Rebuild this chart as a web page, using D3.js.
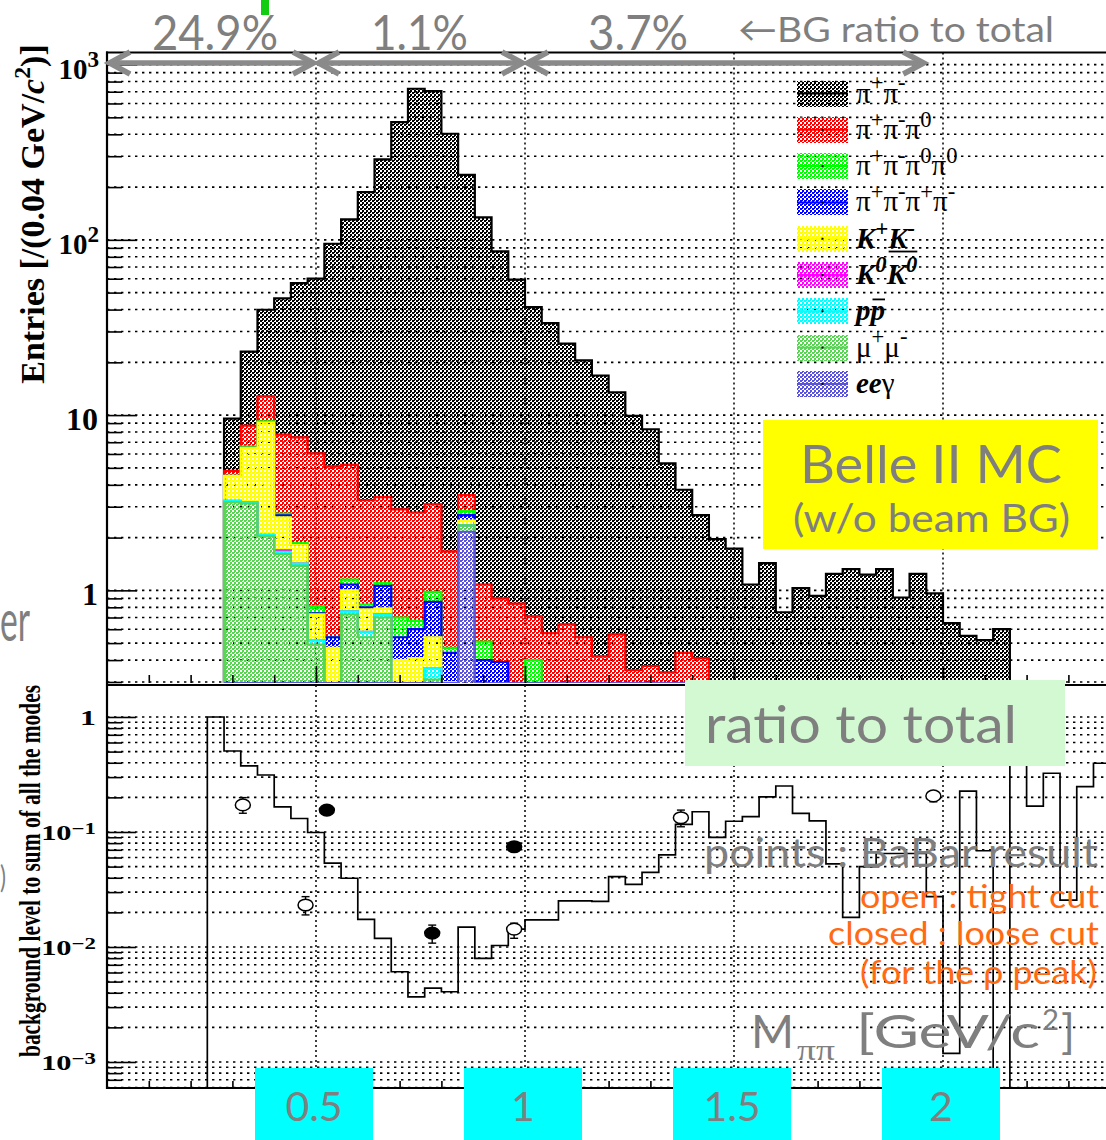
<!DOCTYPE html>
<html>
<head>
<meta charset="utf-8">
<script src="https://cdn.jsdelivr.net/npm/d3@7/dist/d3.min.js"></script>
<style>
  body { margin: 0; background: #fff; }
  svg { display: block; }
</style>
</head>
<body>
<svg id="main-svg" width="1106" height="1140"></svg>
<script>
// binning of the stacked histograms, GeV/c^2
let BIN_START = 0.28;
let BIN_WIDTH = 0.04;

// entries per bin for each mode (bins 0.28 .. 2.16)
let pipi = [4.74, 14.3, 27.1, 38.6, 49.2, 54, 89.9, 125.8, 183.7, 284.6, 466.1, 725.2, 702.9, 401.3, 231.5, 133.4, 85.1, 58.5, 40.6, 32.9,
            24.9, 20.0, 16.4, 12.9, 9.55, 7.93, 4.96, 3.31, 2.28, 1.78, 1.52, 0.93, 1.14, 0.56, 0.88, 0.81, 1.17, 1.30, 1.17, 1.23,
            0.85, 1.16, 0.93, 0.65, 0.43, 0.48, 0.6];
let pi3 = [0.3, 2.1, 3.6, 5.0, 5.6, 5.24, 4.56, 4.05, 2.44, 2.3, 2.2, 2.11, 2.12, 1.2, 0.67, 0.57, 0.51, 0.84, 0.31, 0.57,
           0.64, 0.54, 0.42, 0.56, 0.35, 0.37, 0.34, 0.44, 0.41, 0.18, 0.21, 0.15, 0.29, 0.19, 0.15, 0.12, 0.07, 0.02, 0.06, 0.09,
           0.06, 0.08, 0.03, 0, 0.12, 0.04, 0];
let pi2pi0pi0 = [0, 0.1, 0.1, 0.06, 0.04, 0.07, 0, 0.07, 0.03, 0.04, 0.16, 0.07, 0.12, 0.03, 0.14, 0.11, 0, 0, 0.4, 0,
                 0, 0, 0, 0, 0, 0, 0, 0, 0, 0, 0, 0, 0, 0, 0, 0, 0, 0, 0, 0,
                 0, 0, 0, 0, 0, 0, 0];
let pi4 = [0, 0, 0, 0.07, 0, 0.01, 0.07, 0.08, 0.02, 0.27, 0.14, 0.19, 0.32, 0.14, 0.19, 0.25, 0.3, 0, 0, 0,
           0, 0, 0, 0, 0, 0, 0, 0, 0, 0, 0, 0, 0, 0, 0, 0, 0, 0, 0, 0,
           0, 0, 0, 0, 0, 0, 0];
let kk = [1.26, 3.32, 7.03, 0.92, 0.40, 0.21, 0.27, 0.24, 0.2, 0.06, 0.15, 0.16, 0.18, 0.1, 0.15, 0.05, 0, 0, 0, 0,
          0, 0, 0, 0, 0, 0, 0, 0, 0, 0, 0, 0, 0, 0, 0, 0, 0, 0, 0, 0,
          0, 0, 0, 0, 0, 0, 0];
let k0k0 = [0, 0, 0, 0.03, 0, 0, 0, 0, 0, 0, 0, 0, 0, 0, 0, 0, 0, 0, 0, 0,
            0, 0, 0, 0, 0, 0, 0, 0, 0, 0, 0, 0, 0, 0, 0, 0, 0, 0, 0, 0,
            0, 0, 0, 0, 0, 0, 0];
let ppbar = [0.06, 0.05, 0.04, 0.05, 0.04, 0.03, 0, 0.03, 0.04, 0.03, 0, 0, 0.05, 0, 0, 0, 0, 0, 0, 0,
             0, 0, 0, 0, 0, 0, 0, 0, 0, 0, 0, 0, 0, 0, 0, 0, 0, 0, 0, 0,
             0, 0, 0, 0, 0, 0, 0];
let mumu = [3.18, 3.13, 2.03, 1.61, 1.38, 0.49, 0.2, 0.73, 0.54, 0.7, 0.25, 0.25, 0.31, 0.2, 0.19, 0.1, 0.09, 0, 0, 0,
            0, 0, 0, 0, 0, 0, 0, 0, 0, 0, 0, 0, 0, 0, 0, 0, 0, 0, 0, 0,
            0, 0, 0, 0, 0, 0, 0];
let eeg = [0, 0, 0, 0, 0, 0, 0, 0, 0, 0, 0, 0, 0, 0, 2.16, 0, 0, 0, 0, 0,
           0, 0, 0, 0, 0, 0, 0, 0, 0, 0, 0, 0, 0, 0, 0, 0, 0, 0, 0, 0,
           0, 0, 0, 0, 0, 0, 0];

// background / total ratio per bin (bins 0.24 .. 2.36)
let RATIO_START = 0.24;
let ratio = [1.0, 0.506, 0.375, 0.313, 0.165, 0.131, 0.099, 0.0535, 0.0396, 0.0174, 0.0119, 0.00609, 0.00368, 0.00438, 0.00408,
             0.0149, 0.00795, 0.0103, 0.0143, 0.0172, 0.0172, 0.0252, 0.0252, 0.0249, 0.0409, 0.035, 0.0446, 0.0633, 0.1166,
             0.150, 0.0899, 0.124, 0.136, 0.202, 0.251, 0.145, 0.125, 0.0527, 0.0181, 0.05, 0.065, 0.065, 0.065, 0.0274,
             0.00119, 0.227, 0.0687, 0, 5, 0.168, 0.324, 0.0256, 0.248, 0.396];

// BaBar points: open = tight cut, closed = loose cut
let tight_x = [0.325, 0.475, 0.974, 1.373, 1.977];
let tight_y = [0.172, 0.0232, 0.0143, 0.133, 0.206];
let tight_lo = [0.1455, 0.019, 0.0119, 0.111, 0.183];
let tight_hi = [0.199, 0.0274, 0.0161, 0.155, 0.224];
let loose_x = [0.526, 0.778, 0.974];
let loose_y = [0.155, 0.0132, 0.0745];
let loose_lo = [0.148, 0.0108, 0.071];
let loose_hi = [0.162, 0.0155, 0.078];

// BG ratio to total in the three mass ranges
let bg_ranges = [0, 0.5, 1.0, 1.96];
let bg_labels = ['24.9%', '1.1%', '3.7%'];

let x_labels = ['0.5', '1', '1.5', '2'];

// stacking order, bottom first (legend lists it reversed)
let STACK_KEYS = ['eeg', 'mumu', 'ppbar', 'k0k0', 'kk', 'pi4', 'pi2pi0pi0', 'pi3', 'pipi'];
let MODE_VALUES = { eeg, mumu, ppbar, k0k0, kk, pi4, pi2pi0pi0, pi3, pipi };
let MODE_COLOR = {
    pipi: '#000000', pi3: '#ff0000', pi2pi0pi0: '#00ff00', pi4: '#0000ff', kk: '#ffff00',
    k0k0: '#ff00ff', ppbar: '#00ffff', mumu: '#59d454', eeg: '#5954d9'
};
let MODE_LABEL = {
    pipi: [['π'], ['+', 'sup'], ['π'], ['-', 'sup']],
    pi3: [['π'], ['+', 'sup'], ['π'], ['-', 'sup'], ['π'], ['0', 'sup']],
    pi2pi0pi0: [['π'], ['+', 'sup'], ['π'], ['-', 'sup'], ['π'], ['0', 'sup'], ['π'], ['0', 'sup']],
    pi4: [['π'], ['+', 'sup'], ['π'], ['-', 'sup'], ['π'], ['+', 'sup'], ['π'], ['-', 'sup']],
    kk: [['K', 'bi'], ['+', 'bi sup'], ['K', 'bi'], ['-', 'bi sup']],
    k0k0: [['K', 'bi'], ['0', 'bi sup'], ['K', 'bi over'], ['0', 'bi sup over']],
    ppbar: [['p', 'bi'], ['p', 'bi over']],
    mumu: [['μ'], ['+', 'sup'], ['μ'], ['-', 'sup']],
    eeg: [['ee', 'bi'], ['γ']]
};

let SERIF = "'Liberation Serif', 'Times New Roman', serif";
let GOTHIC = "Lato, 'Open Sans', sans-serif";
let GRAY = '#7f7f7f';
let ORANGE = '#ff6a13';

let svg = d3.select('#main-svg');
let defs = svg.append('defs');

// pixel checker fill like the ROOT pattern
function addPattern(id, color) {
    let p = defs.append('pattern').attr('id', id)
        .attr('patternUnits', 'userSpaceOnUse').attr('width', 4).attr('height', 4);
    p.append('rect').attr('x', 0).attr('y', 0).attr('width', 2).attr('height', 2).attr('fill', color);
    p.append('rect').attr('x', 2).attr('y', 2).attr('width', 2).attr('height', 2).attr('fill', color);
    p.append('rect').attr('x', 2).attr('y', 0).attr('width', 1).attr('height', 1).attr('fill', color);
}
STACK_KEYS.forEach(k => addPattern('pat-' + k, MODE_COLOR[k]));

// scales
let TOP = { left: 107, right: 1106, top: 52.5, bottom: 683 };
let BOT = { left: 107, right: 1106, top: 685, bottom: 1088 };
let x = d3.scaleLinear().domain([0, 2.5]).range([107, 1152]);
let yTop = d3.scaleLog().domain([0.296, 1172]).range([TOP.bottom, TOP.top]);
let yBot = d3.scaleLog().domain([5.94e-4, 1.897]).range([BOT.bottom, BOT.top]);

defs.append('clipPath').attr('id', 'clip-top').append('rect')
    .attr('x', TOP.left).attr('y', TOP.top).attr('width', TOP.right - TOP.left).attr('height', TOP.bottom - TOP.top);
defs.append('clipPath').attr('id', 'clip-bot').append('rect')
    .attr('x', BOT.left).attr('y', BOT.top).attr('width', BOT.right - BOT.left).attr('height', BOT.bottom - BOT.top);

let isDecade = v => Math.abs(Math.log10(v) - Math.round(Math.log10(v))) < 1e-6;

// step contour of a histogram, empty bins drop to the bottom of the pad
function stepPoints(start, values, y, p) {
    let pts = [[x(start), p.bottom]];
    values.forEach((v, i) => {
        let lo = start + i * BIN_WIDTH;
        let yy = v > 0 ? Math.max(p.top - 1, Math.min(p.bottom, y(v))) : p.bottom;
        pts.push([x(lo), yy], [x(lo + BIN_WIDTH), yy]);
    });
    pts.push([x(start + values.length * BIN_WIDTH), p.bottom]);
    return pts;
}

function drawGrid(g, y, p) {
    g.selectAll('line.hgrid').data(y.ticks()).enter().append('line')
        .attr('x1', p.left).attr('x2', p.right)
        .attr('y1', d => y(d)).attr('y2', d => y(d))
        .attr('stroke', '#000').attr('stroke-width', 1.6).attr('stroke-dasharray', '2.4,4.6');
    g.selectAll('line.vgrid').data([0.5, 1, 1.5, 2]).enter().append('line')
        .attr('x1', d => x(d)).attr('x2', d => x(d))
        .attr('y1', p.top).attr('y2', p.bottom)
        .attr('stroke', '#000').attr('stroke-width', 1.5).attr('stroke-dasharray', '2,3');
}

function drawAxes(g, y, p, majorLen, minorLen, xMinorLen, xMajorLen) {
    let ticks = y.ticks();
    let yMinor = g.append('g').attr('transform', `translate(${p.left},0)`)
        .call(d3.axisRight(y).tickValues(ticks.filter(v => !isDecade(v))).tickSize(minorLen).tickSizeOuter(0).tickFormat(''));
    let yMajor = g.append('g').attr('transform', `translate(${p.left},0)`)
        .call(d3.axisRight(y).tickValues(ticks.filter(isDecade)).tickSize(majorLen).tickSizeOuter(0).tickFormat(''));
    let xMinor = g.append('g').attr('transform', `translate(0,${p.bottom})`)
        .call(d3.axisTop(x).tickValues(d3.range(1, 25).map(k => k / 10)).tickSize(xMinorLen).tickSizeOuter(0).tickFormat(''));
    let xMajor = g.append('g').attr('transform', `translate(0,${p.bottom})`)
        .call(d3.axisTop(x).tickValues([0.5, 1, 1.5, 2]).tickSize(xMajorLen).tickSizeOuter(0).tickFormat(''));
    [yMinor, yMajor, xMinor, xMajor].forEach(a => {
        a.selectAll('.tick line').attr('stroke', '#000').attr('stroke-width', 1.6);
        a.select('.domain').remove();
    });
    g.append('line').attr('x1', p.left).attr('x2', p.left).attr('y1', p.top - 1).attr('y2', p.bottom + 1)
        .attr('stroke', '#000').attr('stroke-width', 2.2);
}

// latex-ish text built from tspans, returns the text selection
function drawLatex(parent, px, py, parts, size, opts = {}) {
    let text = parent.append('text').attr('x', px).attr('y', py)
        .attr('font-family', opts.family || SERIF).attr('font-size', size)
        .attr('fill', opts.fill || '#000')
        .attr('font-weight', opts.bold ? 'bold' : 'normal')
        .attr('text-anchor', opts.anchor || 'start');
    let rise = 0, idx = 0, overs = [];
    parts.forEach(([s, style = '']) => {
        let sup = style.includes('sup');
        let newRise = sup ? size * (opts.supRise || 0.42) : 0;
        let ts = text.append('tspan').text(s).attr('dy', rise - newRise);
        rise = newRise;
        if (sup) ts.attr('font-size', size * (opts.supScale || 0.68));
        if (style.includes('bi')) ts.attr('font-weight', 'bold').attr('font-style', 'italic');
        if (style.includes('it')) ts.attr('font-style', 'italic');
        if (style.includes('over')) overs.push([idx, idx + s.length - 1, sup]);
        idx += s.length;
    });
    if (overs.length) {
        let node = text.node();
        let a = overs[0][0], b = overs[overs.length - 1][1];
        let hasSup = overs.some(o => o[2]);
        let x1 = node.getStartPositionOfChar(a).x, x2 = node.getEndPositionOfChar(b).x;
        let oy = py - size * (hasSup ? 1.12 : 0.72);
        parent.append('line').attr('x1', x1 + 2).attr('x2', x2).attr('y1', oy).attr('y2', oy)
            .attr('stroke', '#000').attr('stroke-width', 1.8);
    }
    return text;
}

function slideText(parent, px, py, s, size, fill, len, anchor) {
    let t = parent.append('text').attr('x', px).attr('y', py).text(s)
        .attr('font-family', GOTHIC).attr('font-size', size).attr('fill', fill)
        .attr('text-anchor', anchor || 'start');
    if (len) t.attr('textLength', len).attr('lengthAdjust', 'spacingAndGlyphs');
    return t;
}

// ---------------- top pad: stacked histograms ----------------
let gTop = svg.append('g');
drawGrid(gTop, yTop, TOP);

let rows = pipi.map((_, i) => {
    let r = { lo: BIN_START + i * BIN_WIDTH };
    STACK_KEYS.forEach(k => r[k] = MODE_VALUES[k][i]);
    return r;
});
let layers = d3.stack().keys(STACK_KEYS)(rows);

let gHist = gTop.append('g').attr('clip-path', 'url(#clip-top)');
layers.slice().reverse().forEach(layer => {
    let key = layer.key;
    let pts = stepPoints(BIN_START, layer.map(d => d[1]), yTop, TOP);
    gHist.append('path').attr('d', d3.line()(pts) + 'Z')
        .attr('fill', `url(#pat-${key})`).attr('stroke', 'none').attr('shape-rendering', 'crispEdges');
    gHist.append('path').attr('d', d3.line()(pts))
        .attr('fill', 'none').attr('stroke', MODE_COLOR[key]).attr('stroke-width', 2.2);
});

drawAxes(gTop, yTop, TOP, 30, 15, 8, 17);
gTop.append('line').attr('x1', TOP.left - 1).attr('x2', TOP.right).attr('y1', TOP.top).attr('y2', TOP.top)
    .attr('stroke', '#000').attr('stroke-width', 2.2);

// y tick labels
[[1, null], [10, null], [100, '2'], [1000, '3']].forEach(([v, e]) => {
    let by = yTop(v) + 14.5;
    if (e === null) {
        drawLatex(gTop, 98, by, [[String(v)]], 32, { bold: true, anchor: 'end' });
    } else {
        drawLatex(gTop, 99, by, [['10'], [e, 'sup']], 29, { bold: true, anchor: 'end', supScale: 0.8, supRise: 0.42 });
    }
});

// y title
let gTitle = gTop.append('g').attr('transform', 'translate(44,214) rotate(-90)');
drawLatex(gTitle, 0, 0, [['Entries [/(0.04 GeV/'], ['c', 'it'], ['2', 'sup'], [')]']], 34,
    { bold: true, anchor: 'middle', supScale: 0.7 });

// legend
let gLeg = gTop.append('g');
STACK_KEYS.slice().reverse().forEach((key, i) => {
    let cy = 93.5 + i * 36.3;
    gLeg.append('rect').attr('x', 797).attr('y', cy - 13).attr('width', 51).attr('height', 26)
        .attr('fill', `url(#pat-${key})`).attr('shape-rendering', 'crispEdges');
    gLeg.append('line').attr('x1', 797).attr('x2', 848).attr('y1', cy).attr('y2', cy)
        .attr('stroke', MODE_COLOR[key]).attr('stroke-width', 2);
    gLeg.append('rect').attr('x', 821.5).attr('y', cy - 1).attr('width', 2).attr('height', 2).attr('fill', '#000');
    drawLatex(gLeg, 856, cy + 9, MODE_LABEL[key], 29, { supScale: 0.78, supRise: 0.42 });
});

// ---------------- bottom pad: ratio ----------------
let gBot = svg.append('g');
drawGrid(gBot, yBot, BOT);

let ratioPts = stepPoints(RATIO_START, ratio, yBot, BOT);
gBot.append('g').attr('clip-path', 'url(#clip-bot)').append('path')
    .attr('d', d3.line()(ratioPts)).attr('fill', 'none').attr('stroke', '#000').attr('stroke-width', 1.7);

function drawPoints(xs, ys, los, his, filled) {
    let g = gBot.append('g');
    xs.forEach((xv, i) => {
        let cx = x(xv);
        g.append('line').attr('x1', cx).attr('x2', cx).attr('y1', yBot(los[i])).attr('y2', yBot(his[i]))
            .attr('stroke', '#000').attr('stroke-width', 1.4);
        [los[i], his[i]].forEach(v => g.append('line').attr('x1', cx - 4).attr('x2', cx + 4)
            .attr('y1', yBot(v)).attr('y2', yBot(v)).attr('stroke', '#000').attr('stroke-width', 1.4));
        g.append('ellipse').attr('cx', cx).attr('cy', yBot(ys[i])).attr('rx', 7.5).attr('ry', 5.8)
            .attr('fill', filled ? '#000' : '#fff').attr('stroke', '#000').attr('stroke-width', 1.5);
    });
}
drawPoints(tight_x, tight_y, tight_lo, tight_hi, false);
drawPoints(loose_x, loose_y, loose_lo, loose_hi, true);

drawAxes(gBot, yBot, BOT, 29, 15, 7, 15);
gBot.append('line').attr('x1', BOT.left - 1).attr('x2', BOT.right).attr('y1', BOT.top).attr('y2', BOT.top)
    .attr('stroke', '#000').attr('stroke-width', 2.2);
gBot.append('line').attr('x1', BOT.left - 1).attr('x2', BOT.right).attr('y1', BOT.bottom).attr('y2', BOT.bottom)
    .attr('stroke', '#000').attr('stroke-width', 2.2);

// y tick labels, this pad is stretched sideways
[[1, null], [0.1, '−1'], [0.01, '−2'], [0.001, '−3']].forEach(([v, e]) => {
    let g = gBot.append('g').attr('transform', `translate(96,${yBot(v) + 8}) scale(1.45,1)`);
    if (e === null) drawLatex(g, 0, 0, [['1']], 22, { bold: true, anchor: 'end' });
    else drawLatex(g, 0, 0, [['10'], [e, 'sup']], 21, { bold: true, anchor: 'end', supScale: 0.75, supRise: 0.3 });
});

let gBotTitle = gBot.append('g').attr('transform', 'translate(40,871) scale(1.5,1) rotate(-90)');
gBotTitle.append('text').text('background level to sum of all the modes')
    .attr('font-family', SERIF).attr('font-weight', 'bold').attr('font-size', 19)
    .attr('text-anchor', 'middle').attr('textLength', 372).attr('lengthAdjust', 'spacingAndGlyphs');

// ---------------- slide annotations ----------------
let gAnn = svg.append('g');

// BG ratio arrows along the top
let ARROW_Y = 63;
d3.pairs(bg_ranges).forEach(([a, b]) => {
    let x1 = x(a) + 1, x2 = x(b) - 1;
    gAnn.append('line').attr('x1', x1 + 2).attr('x2', x2 - 2).attr('y1', ARROW_Y).attr('y2', ARROW_Y)
        .attr('stroke', '#8a8a8a').attr('stroke-width', 5.5);
    [[x1, 1], [x2, -1]].forEach(([tip, dir]) => {
        gAnn.append('path')
            .attr('d', `M${tip + dir * 22},${ARROW_Y - 11} L${tip + dir * 1.5},${ARROW_Y} L${tip + dir * 22},${ARROW_Y + 11}`)
            .attr('fill', 'none').attr('stroke', '#8a8a8a').attr('stroke-width', 5.5).attr('stroke-linejoin', 'miter');
    });
});
let BG_LABEL_POS = [[152, 126], [371, 97], [588, 100]];
bg_labels.forEach((s, i) => slideText(gAnn, BG_LABEL_POS[i][0], 50, s, 48, GRAY, BG_LABEL_POS[i][1]));
slideText(gAnn, 738, 42, '←BG ratio to total', 35, GRAY, 316);

gAnn.append('rect').attr('x', 261).attr('y', 0).attr('width', 8).attr('height', 15).attr('fill', '#11cc11');

// Belle II MC box
gAnn.append('rect').attr('x', 763).attr('y', 420).attr('width', 335).attr('height', 129).attr('fill', '#ffff00');
slideText(gAnn, 800, 483, 'Belle II MC', 52, GRAY, 262);
slideText(gAnn, 793, 532, '(w/o beam BG)', 38, GRAY, 277);

// ratio to total box
gAnn.append('rect').attr('x', 685).attr('y', 680).attr('width', 380).attr('height', 86).attr('fill', '#d3f9d3');
slideText(gAnn, 705, 743, 'ratio to total', 52, GRAY, 312);

slideText(gAnn, 704, 867, 'points : BaBar result', 40, GRAY, 394);
slideText(gAnn, 860, 908, 'open : tight cut', 32, ORANGE, 239);
slideText(gAnn, 828, 945, 'closed : loose cut', 32, ORANGE, 271);
slideText(gAnn, 860, 984, '(for the ρ peak)', 32, ORANGE, 237);

// axis title M_pipi [GeV/c^2]
slideText(gAnn, 751, 1048, 'M', 46, GRAY, 43);
gAnn.append('text').attr('x', 797).attr('y', 1060).text('ππ').attr('font-family', SERIF)
    .attr('font-size', 30).attr('fill', GRAY).attr('textLength', 38).attr('lengthAdjust', 'spacingAndGlyphs');
slideText(gAnn, 856, 1048, '[GeV/c', 46, GRAY, 184);
slideText(gAnn, 1042, 1030, '2', 28, GRAY, 17);
slideText(gAnn, 1061, 1048, ']', 46, GRAY, 14);

// x tick labels in cyan boxes
let gX = gAnn.append('g');
gX.selectAll('rect').data(x_labels).enter().append('rect')
    .attr('x', d => x(+d) - 61).attr('y', 1068).attr('width', 118).attr('height', 72).attr('fill', '#00ffff');
gX.selectAll('text').data(x_labels).enter().append('text')
    .attr('x', d => x(+d) - 2).attr('y', 1121).text(d => d)
    .attr('font-family', GOTHIC).attr('font-size', 41).attr('fill', GRAY)
    .attr('text-anchor', 'middle');

// bits of slide text at the left edge
slideText(gAnn, 0, 641, 'er', 58, GRAY, 30);
slideText(gAnn, 0, 888, ')', 30, GRAY, 6);
</script>
</body>
</html>
